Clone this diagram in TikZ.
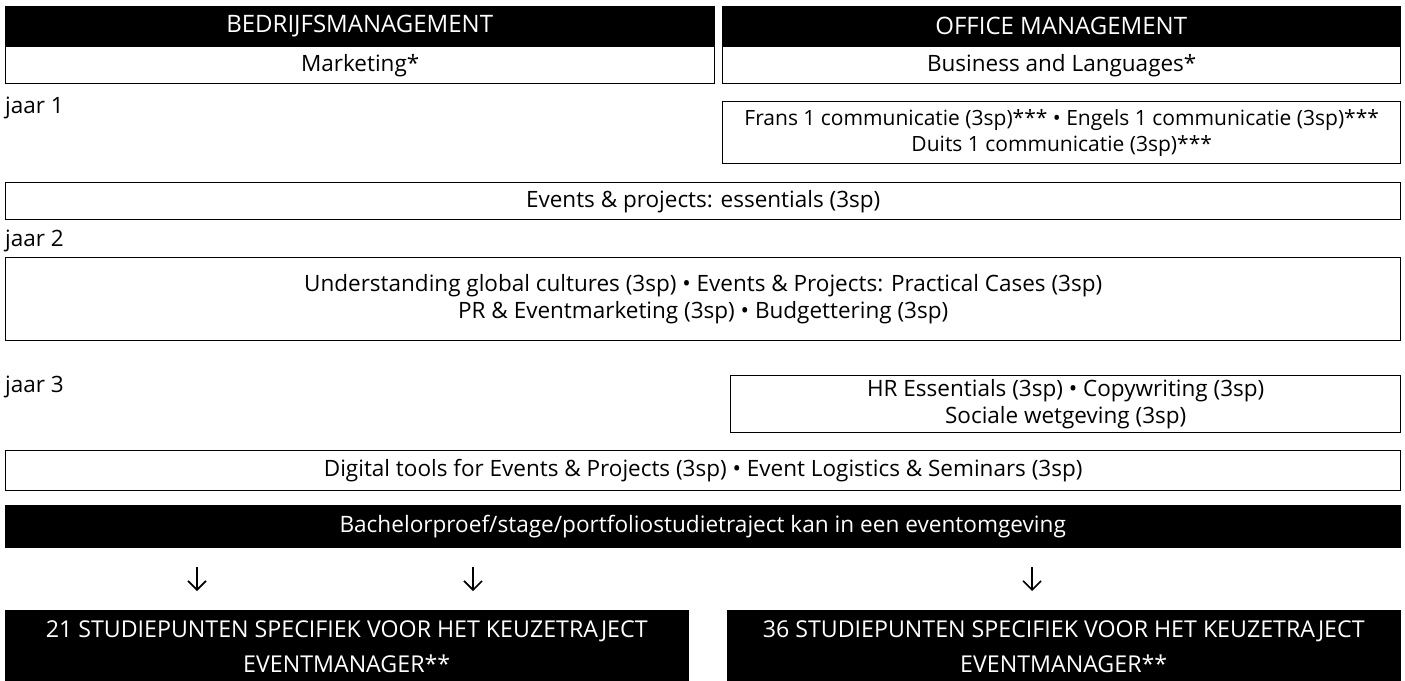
\documentclass[tikz,border=0pt]{standalone}
\usepackage{fontspec}
\setmainfont{Open Sans}
\usetikzlibrary{arrows.meta}
\begin{document}
\begin{tikzpicture}[x=1pt,y=-1pt,
  every node/.style={font=\fontsize{22.5}{27}\selectfont, inner sep=0pt},
  wbox/.style={draw=black, line width=1.4pt, fill=white, anchor=north west, align=center},
  bbox/.style={draw=black, fill=black, text=white, anchor=north west, align=center, font=\fontsize{23.2}{35}\selectfont},
  yr/.style={anchor=north west, align=left},
  arr/.style={line width=1.6pt, -{Straight Barb[length=9pt,width=18pt,line width=1.6pt]}}
]
\useasboundingbox (0,0) rectangle (1405,680);
% headers
\node[bbox, minimum width=709pt, minimum height=40pt, font=\fontsize{24}{28}\selectfont] (h1) at (5,6) {BEDRIJFSMANAGEMENT};
\node[wbox, minimum width=709pt, minimum height=37pt] (m1) at (5,46) {Marketing*};
\node[bbox, minimum width=678pt, minimum height=40pt, font=\fontsize{24}{28}\selectfont] (h2) at (722,6) {OFFICE MANAGEMENT};
\node[wbox, minimum width=678pt, minimum height=37pt] (m2) at (722,46) {Business and Languages*};
% jaar 1
\node[yr] (j1) at (5,97) {jaar 1};
\node[wbox, minimum width=678pt, minimum height=62pt, font=\fontsize{21}{26}\selectfont] (fr) at (722,101) {Frans 1 communicatie (3sp)*** • Engels 1 communicatie (3sp)***\\Duits 1 communicatie (3sp)***};
\node[wbox, minimum width=1395pt, minimum height=37pt] (ev) at (5,182) {Events \& projects: essentials (3sp)};
% jaar 2
\node[yr] (j2) at (5,230) {jaar 2};
\node[wbox, minimum width=1395pt, minimum height=83pt] (un) at (5,257) {Understanding global cultures (3sp) • Events \& Projects: Practical Cases (3sp)\\PR \& Eventmarketing (3sp) • Budgettering (3sp)};
% jaar 3
\node[yr] (j3) at (5,376) {jaar 3};
\node[wbox, minimum width=670pt, minimum height=57pt] (hr) at (730,375) {HR Essentials (3sp) • Copywriting (3sp)\\Sociale wetgeving (3sp)};
\node[wbox, minimum width=1395pt, minimum height=40pt] (dg) at (5,450) {Digital tools for Events \& Projects (3sp) • Event Logistics \& Seminars (3sp)};
% bachelor
\node[bbox, minimum width=1395pt, minimum height=42pt, font=\fontsize{22.6}{27}\selectfont] (ba) at (5,505) {Bachelorproef/stage/portfoliostudietraject kan in een eventomgeving};
% bottom
\node[bbox, minimum width=683pt, minimum height=72pt] (b1) at (5,610) {21 STUDIEPUNTEN SPECIFIEK VOOR HET KEUZETRAJECT\\EVENTMANAGER**};
\node[bbox, minimum width=673pt, minimum height=72pt] (b2) at (727,610) {36 STUDIEPUNTEN SPECIFIEK VOOR HET KEUZETRAJECT\\EVENTMANAGER**};
% arrows
\coordinate (a1s) at (197,567); \coordinate (a1e) at (197,591);
\coordinate (a2s) at (473,567); \coordinate (a2e) at (473,591);
\coordinate (a3s) at (1032,567); \coordinate (a3e) at (1032,591);
\draw[arr] (a1s) -- (a1e);
\draw[arr] (a2s) -- (a2e);
\draw[arr] (a3s) -- (a3e);
\end{tikzpicture}
\end{document}
